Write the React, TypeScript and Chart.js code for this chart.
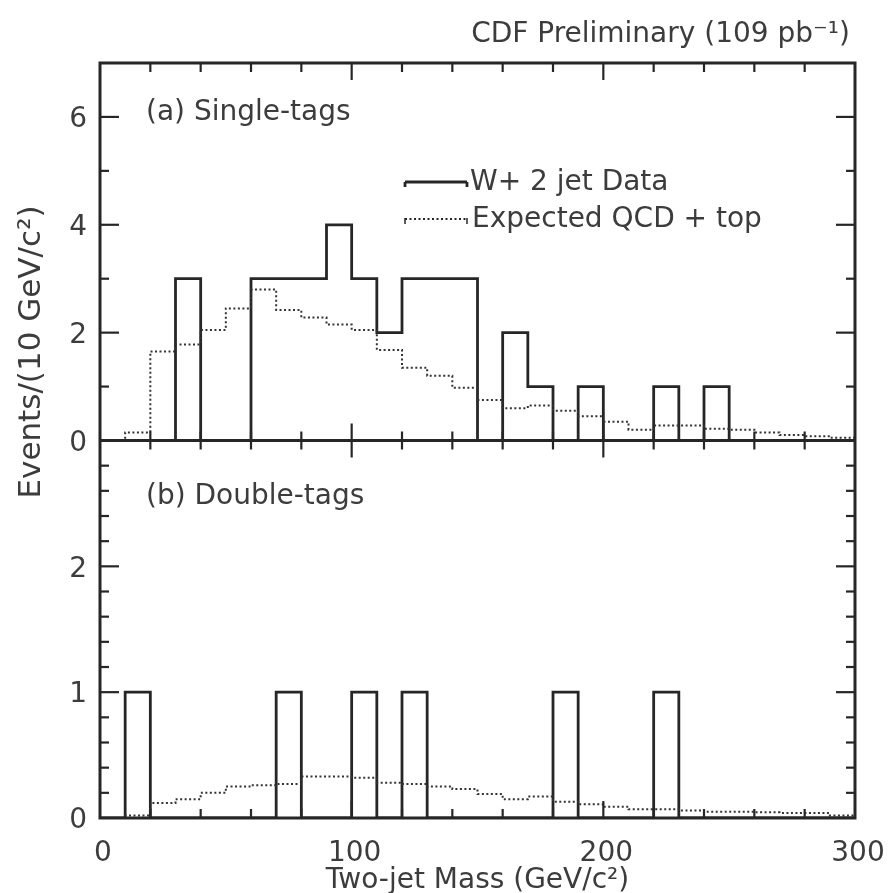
import React, { useEffect, useRef } from "react";
import { Chart, registerables } from "chart.js";

Chart.register(...registerables);

// ---- data (10 GeV/c^2 bins, low edges) ----
const binEdges = [0, 10, 20, 30, 40, 50, 60, 70, 80, 90, 100, 110, 120, 130, 140, 150, 160, 170, 180, 190, 200, 210, 220, 230, 240, 250, 260, 270, 280, 290];
const xMax = 300;

const singleTagData = [0, 0, 0, 3, 0, 0, 3, 3, 3, 4, 3, 2, 3, 3, 3, 0, 2, 1, 0, 1, 0, 0, 1, 0, 1, 0, 0, 0, 0, 0];
const singleTagExpected = [0, 0.15, 1.65, 1.78, 2.05, 2.45, 2.8, 2.42, 2.28, 2.15, 2.05, 1.68, 1.35, 1.2, 0.98, 0.75, 0.6, 0.65, 0.55, 0.45, 0.35, 0.2, 0.28, 0.28, 0.22, 0.2, 0.15, 0.1, 0.08, 0.05];

const doubleTagData = [0, 1, 0, 0, 0, 0, 0, 1, 0, 0, 1, 0, 1, 0, 0, 0, 0, 0, 1, 0, 0, 0, 1, 0, 0, 0, 0, 0, 0, 0];
const doubleTagExpected = [0, 0.02, 0.12, 0.15, 0.2, 0.25, 0.26, 0.27, 0.33, 0.33, 0.32, 0.28, 0.27, 0.25, 0.23, 0.19, 0.15, 0.17, 0.13, 0.11, 0.09, 0.07, 0.07, 0.06, 0.05, 0.05, 0.045, 0.04, 0.04, 0.02];

// ---- axes / labels ----
const xTickValues = [20, 40, 60, 80, 100, 120, 140, 160, 180, 200, 220, 240, 260, 280];
const xMajorTicks = [100, 200];
const xTickLabels = [0, 100, 200, 300];
const yTopTicks = [1, 2, 3, 4, 5, 6];
const yTopLabels = [0, 2, 4, 6];
const yBotTicks = [0.2, 0.4, 0.6, 0.8, 1, 1.2, 1.4, 1.6, 1.8, 2, 2.2, 2.4, 2.6, 2.8];
const yBotLabels = [0, 1, 2];

const titleText = "CDF Preliminary (109 pb\u207B\u00B9)";
const panelALabel = "(a) Single-tags";
const panelBLabel = "(b) Double-tags";
const legendData = "W+ 2 jet Data";
const legendExpected = "Expected QCD + top";
const xTitle = "Two-jet Mass (GeV/c\u00B2)";
const yTitle = "Events/(10 GeV/c\u00B2)";

const FONT = "'DejaVu Sans', 'Liberation Sans', sans-serif";
const INK = "#262626";
const TEXT = "#3c3c3c";

function histPoints(values: number[]) {
  const pts = values.map((v, i) => ({ x: binEdges[i], y: v }));
  pts.push({ x: xMax, y: values[values.length - 1] });
  return pts;
}

const framePlugin = {
  id: "physicsFrame",
  afterDatasetsDraw(chart: any) {
    const { ctx, chartArea } = chart;
    const xs = chart.scales.x;
    const yT = chart.scales.yTop;
    const yB = chart.scales.yBot;
    const L = chartArea.left, R = chartArea.right, T = chartArea.top, B = chartArea.bottom;
    const mid = yT.getPixelForValue(0);

    ctx.save();
    ctx.strokeStyle = INK;
    ctx.lineWidth = 3;
    ctx.setLineDash([]);
    ctx.strokeRect(L, T, R - L, B - T);
    ctx.beginPath();
    ctx.moveTo(L, mid);
    ctx.lineTo(R, mid);
    ctx.stroke();

    ctx.lineWidth = 2.2;
    const seg = (x1: number, y1: number, x2: number, y2: number) => {
      ctx.beginPath();
      ctx.moveTo(x1, y1);
      ctx.lineTo(x2, y2);
      ctx.stroke();
    };
    // x ticks
    xTickValues.forEach((v) => {
      const px = xs.getPixelForValue(v);
      const len = xMajorTicks.includes(v) ? 17 : 9;
      seg(px, T, px, T + len);
      seg(px, mid, px, mid - len);
      seg(px, mid, px, mid + len);
      seg(px, B, px, B - len);
    });
    // y ticks top panel
    yTopTicks.forEach((v) => {
      const py = yT.getPixelForValue(v);
      const len = v % 2 === 0 ? 19 : 9;
      seg(L, py, L + len, py);
      seg(R, py, R - len, py);
    });
    // y ticks bottom panel
    yBotTicks.forEach((v) => {
      const py = yB.getPixelForValue(v);
      const len = Math.abs(v - Math.round(v)) < 1e-6 ? 19 : 9;
      seg(L, py, L + len, py);
      seg(R, py, R - len, py);
    });

    // text
    ctx.fillStyle = TEXT;
    ctx.font = `28px ${FONT}`;
    ctx.textBaseline = "middle";
    ctx.textAlign = "right";
    yTopLabels.forEach((v) => ctx.fillText(String(v), L - 13, yT.getPixelForValue(v) + 3));
    yBotLabels.forEach((v) => ctx.fillText(String(v), L - 13, yB.getPixelForValue(v) + 3));
    ctx.textAlign = "center";
    xTickLabels.forEach((v) => ctx.fillText(String(v), xs.getPixelForValue(v) + 3, B + 36));
    ctx.fillText(xTitle, (L + R) / 2, B + 63);

    ctx.textAlign = "right";
    ctx.fillText(titleText, R - 5, T - 28);

    ctx.textAlign = "left";
    ctx.fillText(panelALabel, L + 46, T + 50);
    ctx.fillText(panelBLabel, L + 46, mid + 56);

    // legend
    const lx1 = 405, lx2 = 467, ly1 = 182, ly2 = 219;
    ctx.lineWidth = 2.8;
    seg(lx1, ly1, lx2, ly1);
    seg(lx1, ly1, lx1, ly1 + 5);
    seg(lx2, ly1, lx2, ly1 + 5);
    ctx.lineWidth = 2;
    ctx.setLineDash([2, 2.5]);
    seg(lx1, ly2, lx2, ly2);
    ctx.setLineDash([]);
    ctx.lineWidth = 1.5;
    seg(lx1, ly2 - 1, lx1, ly2 + 5);
    seg(lx2, ly2 - 1, lx2, ly2 + 5);
    ctx.fillText(legendData, 470, ly1 + 1);
    ctx.fillText(legendExpected, 472, ly2 + 1);

    // y title
    ctx.save();
    ctx.translate(32, 352);
    ctx.rotate(-Math.PI / 2);
    ctx.textAlign = "center";
    ctx.font = `31px ${FONT}`;
    ctx.fillText(yTitle, 0, 0);
    ctx.restore();

    ctx.restore();
  },
};

export default function App() {
  const canvasRef = useRef<HTMLCanvasElement | null>(null);

  useEffect(() => {
    const canvas = canvasRef.current;
    if (!canvas) return;
    const solid = { borderColor: INK, borderWidth: 2.8, pointRadius: 0, stepped: "before" as const, fill: false };
    const dotted = { borderColor: "#333333", borderWidth: 2, borderDash: [2, 2.5], pointRadius: 0, stepped: "before" as const, fill: false };
    const chart = new Chart(canvas, {
      type: "line",
      data: {
        datasets: [
          { label: "Expected QCD + top (single)", data: histPoints(singleTagExpected), yAxisID: "yTop", ...dotted },
          { label: "W+ 2 jet Data (single)", data: histPoints(singleTagData), yAxisID: "yTop", ...solid },
          { label: "Expected QCD + top (double)", data: histPoints(doubleTagExpected), yAxisID: "yBot", ...dotted },
          { label: "W+ 2 jet Data (double)", data: histPoints(doubleTagData), yAxisID: "yBot", ...solid },
        ],
      },
      options: {
        responsive: false,
        animation: false,
        devicePixelRatio: 1,
        layout: { padding: { left: 100, right: 36, top: 63, bottom: 75 } },
        plugins: { legend: { display: false }, tooltip: { enabled: false }, title: { display: false } },
        scales: {
          x: { type: "linear", min: 0, max: xMax, display: false },
          // left-stacked scales are laid out last-first, so the bottom panel is declared first
          yBot: { type: "linear", min: 0, max: 3, position: "left", stack: "panels", stackWeight: 1, display: false },
          yTop: { type: "linear", min: 0, max: 7, position: "left", stack: "panels", stackWeight: 1, display: false },
        },
      },
      plugins: [framePlugin],
    } as any);
    return () => chart.destroy();
  }, []);

  return (
    <div style={{ position: "fixed", left: 0, top: 0, width: 891, height: 893, background: "#ffffff" }}>
      <canvas ref={canvasRef} width={891} height={893} style={{ display: "block", width: 891, height: 893 }} />
    </div>
  );
}
